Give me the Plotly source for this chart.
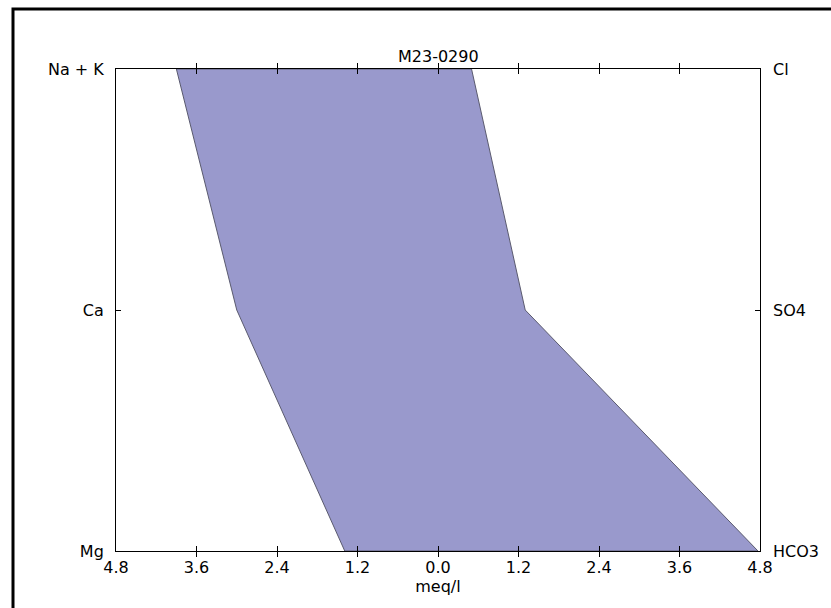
import plotly.graph_objects as go

cations = ["Na + K", "Ca", "Mg"]
anions = ["Cl", "SO4", "HCO3"]
levels = [2, 1, 0]
cation_meq = [3.9, 3.0, 1.39]
anion_meq = [0.5, 1.3, 4.77]
xtick_vals = [-4.8, -3.6, -2.4, -1.2, 0.0, 1.2, 2.4, 3.6, 4.8]
xtick_text = ["4.8", "3.6", "2.4", "1.2", "0.0", "1.2", "2.4", "3.6", "4.8"]
title = "M23-0290"

xs = [-v for v in cation_meq] + list(reversed(anion_meq)) + [-cation_meq[0]]
ys = levels + list(reversed(levels)) + [levels[0]]

FONT = "DejaVu Sans"
FS = 16
fig = go.Figure()
fig.add_trace(go.Scatter(
    x=xs, y=ys, mode="lines", fill="toself",
    fillcolor="rgb(153,153,204)",
    line=dict(color="rgb(90,90,110)", width=1),
    hoverinfo="skip", showlegend=False,
))
# invisible trace for right axis
fig.add_trace(go.Scatter(x=[0], y=[1], yaxis="y2", mode="markers",
                         marker=dict(opacity=0), showlegend=False, hoverinfo="skip"))

fig.update_layout(
    width=831, height=608,
    margin=dict(l=116, r=71, t=69, b=57),
    plot_bgcolor="white", paper_bgcolor="white",
    font=dict(family=FONT, size=FS, color="black"),
    xaxis=dict(range=[-4.8, 4.8], tickvals=xtick_vals, ticktext=xtick_text,
               ticks="inside", ticklen=5, tickcolor="black",
               showline=True, linecolor="black", linewidth=1, mirror="allticks",
               showgrid=False, zeroline=False, ticklabelstandoff=2,
               title=dict(text="meq/l", standoff=2, font=dict(size=FS))),
    yaxis=dict(range=[0, 2], tickvals=levels, ticktext=cations,
               ticks="inside", ticklen=5, tickcolor="black",
               showline=True, linecolor="black", linewidth=1, mirror=True,
               showgrid=False, zeroline=False, ticklabelstandoff=8),
    yaxis2=dict(range=[0, 2], tickvals=levels, ticktext=anions, overlaying="y",
                side="right", ticks="inside", ticklen=5, tickcolor="black",
                showline=False, showgrid=False, zeroline=False, ticklabelstandoff=12),
    annotations=[dict(text=title, x=0.5, y=1, xref="paper", yref="paper",
                      xanchor="center", yanchor="bottom", yshift=1,
                      showarrow=False, font=dict(size=FS, family=FONT))],
    shapes=[dict(type="rect", xref="paper", yref="paper",
                 x0=(13 - 116) / 644, x1=1.3, y0=-0.3, y1=(551 - 9) / 482,
                 line=dict(color="black", width=3), layer="above")],
)
fig.write_html("out.html")
